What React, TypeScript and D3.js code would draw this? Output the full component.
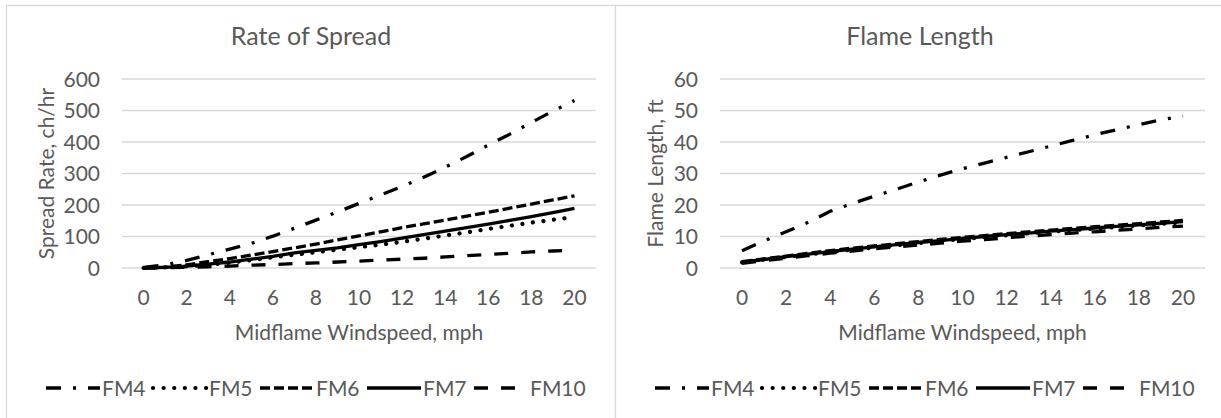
import React from "react";
import * as d3 from "d3";

// ---- data ----
const windspeed = [0, 1, 2, 3, 4, 5, 6, 7, 8, 9, 10, 11, 12, 13, 14, 15, 16, 17, 18, 19, 20];
const xTickLabels = [0, 2, 4, 6, 8, 10, 12, 14, 16, 18, 20];
const seriesNames = ["FM4", "FM5", "FM6", "FM7", "FM10"];

const rosTicks = [0, 100, 200, 300, 400, 500, 600];
const rosFM4 = [2, 10, 24, 42, 60, 78, 101, 126, 152, 178, 205, 232, 259, 288, 320, 354, 390, 425, 462, 498, 532];
const rosFM5 = [0, 2, 5, 10, 17, 25, 34, 42, 50, 58, 66, 74, 83, 93, 103, 113, 124, 134, 144, 153, 162];
const rosFM6 = [0, 3, 10, 20, 30, 41, 52, 64, 76, 89, 102, 115, 128, 140, 152, 165, 177, 190, 203, 216, 229];
const rosFM7 = [0, 2, 6, 12, 19, 28, 37, 48, 56, 64, 74, 84, 95, 106, 117, 128, 139, 151, 163, 176, 189];
const rosFM10 = [0, 1, 2, 4, 6, 9, 11, 14, 16, 19, 22, 25, 28, 31, 35, 39, 43, 47, 51, 54, 57];

const flTicks = [0, 10, 20, 30, 40, 50, 60];
const flFM4 = [5.5, 8.6, 11.5, 14.5, 18, 20.5, 22.8, 25, 27.3, 29.5, 31.5, 33.3, 35.1, 36.9, 38.7, 40.5, 42.3, 43.9, 45.5, 47, 48.3];
const flFM5 = [1.8, 2.7, 3.5, 4.3, 5.1, 5.8, 6.5, 7.2, 7.9, 8.6, 9.2, 9.8, 10.4, 11, 11.5, 12, 12.5, 13, 13.5, 14, 14.5];
const flFM6 = [2, 2.9, 3.8, 4.7, 5.5, 6.3, 7, 7.7, 8.4, 9.1, 9.7, 10.3, 10.9, 11.5, 12, 12.6, 13.1, 13.6, 14.1, 14.6, 15.1];
const flFM7 = [1.8, 2.7, 3.6, 4.4, 5.2, 6, 6.7, 7.4, 8.1, 8.7, 9.4, 10, 10.6, 11.1, 11.7, 12.2, 12.7, 13.2, 13.7, 14.2, 14.7];
const flFM10 = [1.5, 2.3, 3.1, 3.9, 4.7, 5.4, 6.1, 6.7, 7.3, 7.9, 8.5, 9, 9.6, 10.1, 10.6, 11.1, 11.5, 12, 12.4, 12.9, 13.3];

// ---- styles ----
const FONT = "Lato, 'Open Sans', sans-serif";
const TEXT = "#595959";
const GRID = "#d9d9d9";

type LineStyle = { dash: string; cap: "butt" | "round"; width: number };
const lineStyles: Record<string, LineStyle> = {
  FM4: { dash: "15 12 3 12", cap: "butt", width: 3.3 },
  FM5: { dash: "0.1 10.5", cap: "round", width: 4.2 },
  FM6: { dash: "10 4", cap: "butt", width: 3.3 },
  FM7: { dash: "none", cap: "butt", width: 3.3 },
  FM10: { dash: "14 13", cap: "butt", width: 3.3 },
};

type PanelCfg = {
  title: string;
  yTitle: string;
  ticks: number[];
  yMax: number;
  series: number[][];
  frameX: number;
  frameW: number;
  titleX: number;
  plotLeft: number;
  plotRight: number;
  yTitleX: number;
  legendX: number;
};

const panels: PanelCfg[] = [
  {
    title: "Rate of Spread",
    yTitle: "Spread Rate, ch/hr",
    ticks: rosTicks,
    yMax: 600,
    series: [rosFM4, rosFM5, rosFM6, rosFM7, rosFM10],
    frameX: 6.5,
    frameW: 609,
    titleX: 311,
    plotLeft: 122,
    plotRight: 596,
    yTitleX: 46,
    legendX: 46,
  },
  {
    title: "Flame Length",
    yTitle: "Flame Length, ft",
    ticks: flTicks,
    yMax: 60,
    series: [flFM4, flFM5, flFM6, flFM7, flFM10],
    frameX: 615.5,
    frameW: 620,
    titleX: 920,
    plotLeft: 720,
    plotRight: 1205,
    yTitleX: 655,
    legendX: 655,
  },
];

const PLOT_TOP = 79;
const PLOT_BOTTOM = 268;

function Panel({ cfg }: { cfg: PanelCfg }) {
  const x = d3.scaleLinear().domain([-1, 21]).range([cfg.plotLeft, cfg.plotRight]);
  const y = d3.scaleLinear().domain([0, cfg.yMax]).range([PLOT_BOTTOM, PLOT_TOP]);
  const line = d3
    .line<number>()
    .x((_, i) => x(windspeed[i]))
    .y((d) => y(d));
  const plotCenter = (cfg.plotLeft + cfg.plotRight) / 2;
  const itemW = 107;
  return (
    <g>
      <rect x={cfg.frameX} y={5.5} width={cfg.frameW} height={430} fill="#fff" stroke={GRID} strokeWidth={1.3} />
      <text x={cfg.titleX} y={45} textAnchor="middle" fontFamily={FONT} fontSize={25} fill={TEXT}>
        {cfg.title}
      </text>
      {cfg.ticks.map((t) => (
        <g key={t}>
          <line x1={cfg.plotLeft} x2={cfg.plotRight} y1={y(t)} y2={y(t)} stroke={GRID} strokeWidth={1.3} />
          <text x={cfg.plotLeft - 22} y={y(t)} dy="0.36em" textAnchor="end" fontFamily={FONT} fontSize={21} fill={TEXT}>
            {t}
          </text>
        </g>
      ))}
      {xTickLabels.map((t) => (
        <text key={t} x={x(t)} y={297} dy="0.36em" textAnchor="middle" fontFamily={FONT} fontSize={21} fill={TEXT}>
          {t}
        </text>
      ))}
      <text
        transform={`translate(${cfg.yTitleX},${(PLOT_TOP + PLOT_BOTTOM) / 2}) rotate(-90)`}
        dy="0.36em"
        textAnchor="middle"
        fontFamily={FONT}
        fontSize={21}
        fill={TEXT}
      >
        {cfg.yTitle}
      </text>
      <text x={plotCenter} y={332} dy="0.36em" textAnchor="middle" fontFamily={FONT} fontSize={21} fill={TEXT}>
        Midflame Windspeed, mph
      </text>
      {cfg.series.map((s, i) => {
        const st = lineStyles[seriesNames[i]];
        return (
          <path
            key={seriesNames[i]}
            d={line(s) || ""}
            fill="none"
            stroke="#000"
            strokeWidth={st.width}
            strokeDasharray={st.dash}
            strokeLinecap={st.cap}
            strokeLinejoin="round"
          />
        );
      })}
      {seriesNames.map((n, i) => {
        const st = lineStyles[n];
        const lx = cfg.legendX + i * itemW;
        return (
          <g key={n}>
            <line
              x1={lx}
              x2={lx + 54}
              y1={388}
              y2={388}
              stroke="#000"
              strokeWidth={st.width}
              strokeDasharray={st.dash}
              strokeLinecap={st.cap}
            />
            <text x={lx + 56} y={388} dy="0.36em" fontFamily={FONT} fontSize={21} fill={TEXT}>
              {n}
            </text>
          </g>
        );
      })}
    </g>
  );
}

export default function App() {
  return (
    <div style={{ position: "fixed", left: 0, top: 0 }}>
      <svg width={1221} height={418} style={{ display: "block", background: "#fff" }}>
        <rect width={1221} height={418} fill="#fff" />
        {panels.map((p) => (
          <Panel key={p.title} cfg={p} />
        ))}
      </svg>
    </div>
  );
}
